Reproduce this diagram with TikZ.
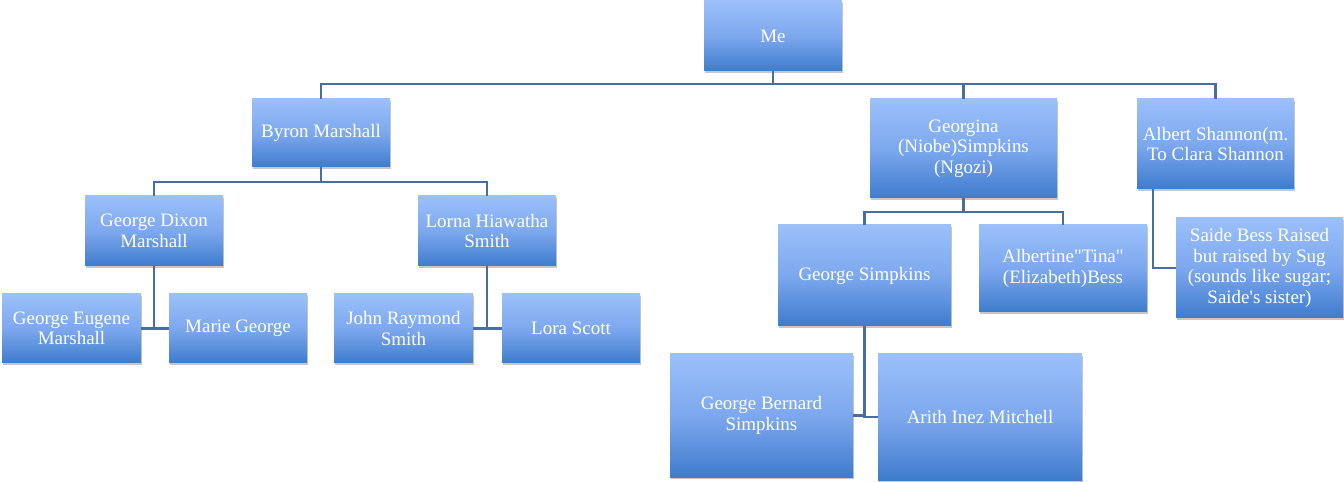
\documentclass[tikz,border=0pt]{standalone}
\usepackage{fontspec}
\setmainfont{Liberation Serif}[Ligatures=TeXOff]
\usetikzlibrary{shadows}
\definecolor{boxtop}{RGB}{155,192,250}
\definecolor{boxmid}{RGB}{125,168,238}
\definecolor{boxbot}{RGB}{62,124,205}
\definecolor{linkblue}{RGB}{72,110,160}
\tikzset{
	person/.style 2 args={draw=none, top color=boxtop, bottom color=boxbot, middle color=boxmid, text=white, align=center, inner sep=1pt, minimum width=#1*0.02cm, minimum height=#2*0.02cm, font=\fontsize{10.8}{11.6}\selectfont, drop shadow={shadow xshift=0.8pt, shadow yshift=-1.2pt, fill=black, opacity=0.22}},
	link/.style={draw=linkblue, line width=1.2pt}
}
\begin{document}
\begin{tikzpicture}[x=0.02cm, y=-0.02cm]
		\useasboundingbox (0,0) rectangle (1344,482);
		\node[person={138}{70}] (me) at (773,36) {Me};
		\node[person={138}{68}] (byron) at (321,133) {Byron Marshall};
		\node[person={187}{99}] (georgina) at (963.5,148.5) {Georgina\\(Niobe)Simpkins\\(Ngozi)};
		\node[person={157}{90}] (albert) at (1215.5,144) {Albert Shannon(m.\\To Clara Shannon};
		\node[person={138}{70}] (dixon) at (154,231) {George Dixon\\Marshall};
		\node[person={138}{70}] (lorna) at (487,231) {Lorna Hiawatha\\Smith};
		\node[person={139}{69}] (eugene) at (71.5,328.5) {George Eugene\\Marshall};
		\node[person={138}{69}] (marie) at (238,328.5) {Marie George};
		\node[person={139}{69}] (john) at (403.5,328.5) {John Raymond\\Smith};
		\node[person={138}{69}] (lora) at (571,328.5) {Lora Scott};
		\node[person={173}{101}] (george) at (864.5,275.5) {George Simpkins};
		\node[person={168}{87}] (tina) at (1063,268.5) {Albertine"Tina"\\(Elizabeth)Bess};
		\node[person={167}{100}] (saide) at (1259.5,268) {Saide Bess Raised\\but raised by Sug\\(sounds like sugar;\\Saide's sister)};
		\node[person={183}{123}] (bernard) at (761.5,415.5) {George Bernard\\Simpkins};
		\node[person={204}{126}] (arith) at (980,417) {Arith Inez Mitchell};
		\draw[link] (me.south) -- ++(0,12.5) -| (byron.north);
		\draw[link] (me.south) -- ++(0,12.5) -| (georgina.north);
		\draw[link] (me.south) -- ++(0,12.5) -| (albert.north);
		\draw[link] (byron.south) -- ++(0,15) -| (dixon.north);
		\draw[link] (byron.south) -- ++(0,15) -| (lorna.north);
		\draw[link] (georgina.south) -- ++(0,14) -| (george.north);
		\draw[link] (georgina.south) -- ++(0,14) -| (tina.north);
		\draw[link] (dixon.south) |- (eugene.east);
		\draw[link] (dixon.south) |- (marie.west);
		\draw[link] (lorna.south) |- (john.east);
		\draw[link] (lorna.south) |- (lora.west);
		\draw[link] (george.south) |- (bernard.east);
		\draw[link] (george.south) |- (arith.west);
		\draw[link] ([xshift=0.32cm]albert.south west) |- (saide.west);
  \end{tikzpicture}
\end{document}
